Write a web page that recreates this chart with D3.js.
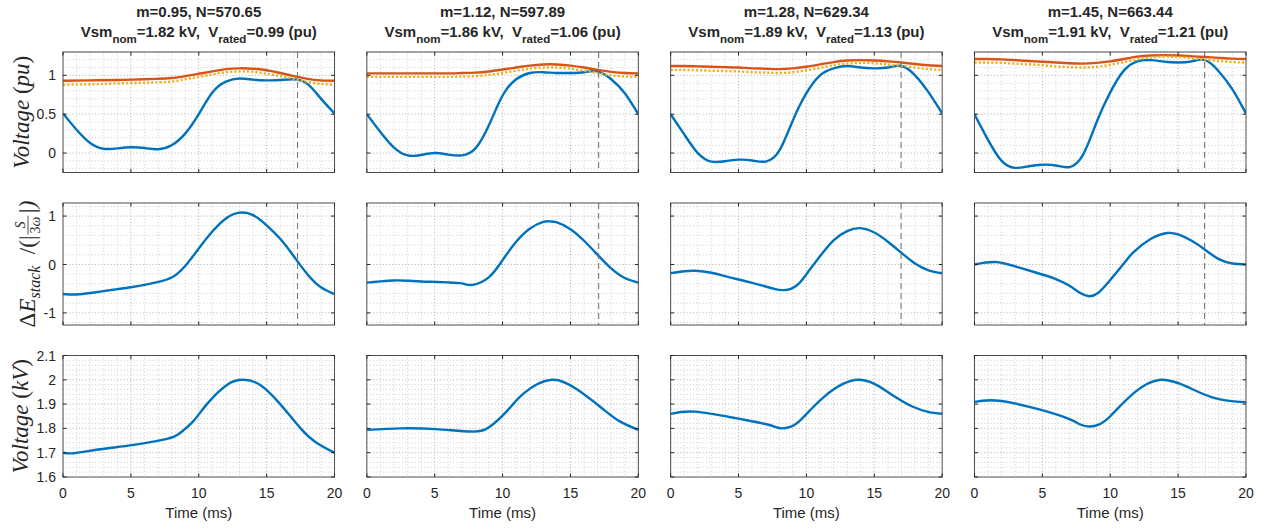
<!DOCTYPE html>
<html>
<head>
<meta charset="utf-8">
<script src="https://cdn.jsdelivr.net/npm/d3@7"></script>
<style>
  body { margin: 0; background: #fff; }
  svg { display: block; }
  text { font-family: "Liberation Sans", Arial, Helvetica, sans-serif; fill: #262626; white-space: pre; }
  .ylab { font-family: "Liberation Serif", "Times New Roman", serif; font-style: italic; }
</style>
</head>
<body>
<svg id="fig" width="1279" height="531"></svg>
<script>
// ---- values ----
const mValues    = [0.95, 1.12, 1.28, 1.45];
const nValues    = [570.65, 597.89, 629.34, 663.44];
const vsmNom     = [1.82, 1.86, 1.89, 1.91];
const vRated     = [0.99, 1.06, 1.13, 1.21];
const tMarker    = [17.28, 17.08, 16.97, 16.95];   // dashed vertical line (ms)

const timeTicks   = [0, 5, 10, 15, 20];
const puTicks     = [0, 0.5, 1];
const energyTicks = [-1, 0, 1];
const kvTicks     = [1.6, 1.7, 1.8, 1.9, 2, 2.1];

// row 1 : arm voltage (blue), upper envelope (orange), dotted (yellow) [t ms, pu]
const armVoltage = [
  [[0,0.51],[1,0.30],[2,0.13],[3,0.055],[4,0.06],[5,0.075],[6,0.065],[7,0.05],[8,0.10],[9,0.25],[10,0.50],[11,0.78],[12,0.92],[13,0.96],[14,0.945],[15,0.935],[16,0.94],[17,0.95],[18,0.89],[19,0.70],[20,0.51]],
  [[0,0.50],[1,0.27],[2,0.07],[3,-0.03],[4,-0.025],[5,0.0],[6,-0.02],[7,-0.03],[8,0.06],[9,0.36],[10,0.74],[11,0.95],[12,1.03],[13,1.04],[14,1.03],[15,1.03],[16,1.04],[17,1.05],[18,0.95],[19,0.77],[20,0.50]],
  [[0,0.50],[1,0.24],[2,0.0],[3,-0.11],[4,-0.105],[5,-0.085],[6,-0.095],[7,-0.11],[8,0.03],[9,0.42],[10,0.77],[11,1.00],[12,1.09],[13,1.12],[14,1.10],[15,1.09],[16,1.10],[17,1.12],[18,1.00],[19,0.78],[20,0.51]],
  [[0,0.50],[1,0.17],[2,-0.10],[3,-0.19],[4,-0.17],[5,-0.15],[6,-0.16],[7,-0.18],[8,-0.02],[9,0.40],[10,0.78],[11,1.06],[12,1.18],[13,1.195],[14,1.175],[15,1.165],[16,1.18],[17,1.195],[18,1.05],[19,0.82],[20,0.51]]
];
const smVoltage = [
  [[0,0.93],[2,0.935],[4,0.94],[6,0.95],[7,0.955],[8,0.965],[9,0.99],[10,1.02],[11,1.05],[12,1.08],[13,1.09],[14,1.085],[15,1.065],[16,1.03],[17,0.99],[18,0.955],[19,0.935],[20,0.93]],
  [[0,1.025],[3,1.025],[6,1.025],[7,1.03],[8,1.035],[9,1.05],[10,1.075],[11,1.10],[12,1.125],[13,1.14],[14,1.14],[15,1.125],[16,1.10],[17,1.07],[18,1.045],[19,1.03],[20,1.025]],
  [[0,1.12],[1,1.12],[2,1.115],[3,1.11],[4,1.105],[5,1.10],[6,1.09],[7,1.085],[8,1.08],[9,1.09],[10,1.11],[11,1.14],[12,1.17],[13,1.19],[14,1.195],[15,1.19],[16,1.18],[17,1.165],[18,1.145],[19,1.13],[20,1.12]],
  [[0,1.21],[1,1.21],[2,1.205],[3,1.195],[4,1.185],[5,1.175],[6,1.165],[7,1.155],[8,1.15],[9,1.16],[10,1.18],[11,1.21],[12,1.24],[13,1.255],[14,1.26],[15,1.255],[16,1.245],[17,1.235],[18,1.225],[19,1.215],[20,1.21]]
];
const avgVoltage = [
  [[0,0.88],[2,0.885],[4,0.895],[6,0.905],[7,0.91],[8,0.92],[9,0.95],[10,0.98],[11,1.01],[12,1.04],[13,1.05],[14,1.045],[15,1.02],[16,0.99],[17,0.955],[18,0.915],[19,0.89],[20,0.88]],
  [[0,0.98],[3,0.98],[6,0.98],[7,0.985],[8,0.99],[9,1.005],[10,1.03],[11,1.06],[12,1.085],[13,1.10],[14,1.10],[15,1.085],[16,1.06],[17,1.03],[18,1.0],[19,0.985],[20,0.98]],
  [[0,1.07],[1,1.07],[2,1.065],[3,1.06],[4,1.055],[5,1.05],[6,1.04],[7,1.035],[8,1.03],[9,1.04],[10,1.065],[11,1.095],[12,1.13],[13,1.15],[14,1.16],[15,1.155],[16,1.14],[17,1.12],[18,1.10],[19,1.08],[20,1.07]],
  [[0,1.165],[1,1.165],[2,1.16],[3,1.15],[4,1.14],[5,1.13],[6,1.115],[7,1.105],[8,1.10],[9,1.11],[10,1.135],[11,1.17],[12,1.205],[13,1.23],[14,1.24],[15,1.235],[16,1.22],[17,1.20],[18,1.185],[19,1.17],[20,1.165]]
];

// row 2 : stack energy deviation (normalised)
const stackEnergy = [
  [[0,-0.61],[1,-0.62],[2,-0.59],[3,-0.55],[4,-0.51],[5,-0.47],[6,-0.42],[7,-0.36],[8,-0.27],[9,-0.03],[10,0.33],[11,0.68],[12,0.95],[13,1.07],[14,1.02],[15,0.81],[16,0.53],[17,0.17],[18,-0.20],[19,-0.47],[20,-0.61]],
  [[0,-0.375],[1,-0.35],[2,-0.33],[3,-0.335],[4,-0.35],[5,-0.36],[6,-0.37],[7,-0.39],[7.8,-0.42],[9,-0.26],[10,0.09],[11,0.47],[12,0.74],[13,0.88],[13.5,0.89],[14,0.87],[15,0.73],[16,0.49],[17,0.20],[18,-0.08],[19,-0.28],[20,-0.375]],
  [[0,-0.18],[1,-0.14],[1.84,-0.13],[3,-0.17],[4,-0.24],[5,-0.31],[6,-0.38],[7,-0.455],[7.7,-0.51],[8.26,-0.53],[8.9,-0.50],[9.5,-0.38],[10,-0.20],[11,0.17],[12,0.50],[13,0.69],[13.95,0.75],[15,0.66],[16,0.47],[17,0.24],[18,0.02],[19,-0.12],[20,-0.18]],
  [[0,0.0],[1.54,0.05],[3,-0.04],[4.45,-0.16],[5.9,-0.29],[7,-0.44],[7.8,-0.59],[8.43,-0.655],[9.1,-0.59],[9.97,-0.33],[11,0.02],[11.7,0.25],[13,0.53],[14.2,0.65],[15,0.62],[16,0.49],[17,0.30],[18,0.11],[19,0.02],[20,0.0]]
];

// row 3 : submodule capacitor voltage (kV)
const capVoltage = [
  [[0,1.70],[0.8,1.698],[2.75,1.714],[5.2,1.732],[7.66,1.757],[8.6,1.78],[9.6,1.83],[10.6,1.90],[12.1,1.98],[13.3,2.0],[14.5,1.98],[16,1.90],[17.5,1.80],[18.7,1.74],[20,1.70]],
  [[0,1.794],[2.5,1.80],[5.1,1.797],[7.7,1.787],[9.0,1.805],[10.3,1.87],[11.6,1.946],[13.6,2.0],[15.5,1.96],[17.3,1.884],[18.6,1.83],[20,1.794]],
  [[0,1.86],[1.8,1.869],[4.8,1.842],[7.0,1.818],[7.7,1.806],[8.2,1.80],[8.8,1.806],[9.6,1.836],[11.3,1.93],[13.8,2.0],[16.1,1.946],[17.8,1.89],[19.1,1.866],[20,1.86]],
  [[0,1.909],[1.8,1.914],[4.84,1.877],[7.0,1.838],[7.8,1.816],[8.5,1.808],[9.2,1.817],[10,1.85],[11.75,1.946],[13.7,2.0],[15.6,1.973],[17.4,1.93],[19.1,1.911],[20,1.908]]
];

// ---- layout ----
const svg = d3.select("#fig");
const BLUE = "#0072BD", ORANGE = "#D95319", YELLOW = "#EDB120", AXIS = "#262626";
const plotLeft = 63, plotRight = 1246, colGap = 32.3;
const pw = (plotRight - plotLeft - 3 * colGap) / 4;
const rows = [
  { top: 52,    h: 120.5, domain: [-0.25, 1.3],  ticks: puTicks,     minor: d3.range(-0.2, 1.31, 0.1), marker: true },
  { top: 203,   h: 122,   domain: [-1.25, 1.27], ticks: energyTicks, minor: d3.range(-1.2, 1.21, 0.2), marker: true },
  { top: 355.5, h: 121.5, domain: [1.6, 2.1],    ticks: kvTicks,     minor: d3.range(1.62, 2.09, 0.02), marker: false }
];
const timeMinor = d3.range(1, 20, 1);

svg.append("rect").attr("width", 1279).attr("height", 531).attr("fill", "#fff");

const x = d3.scaleLinear().domain([0, 20]).range([0, pw]);
const curve = d3.curveNatural;

rows.forEach(function (row, r) {
  const y = d3.scaleLinear().domain(row.domain).range([row.h, 0]);
  const line = d3.line().x(d => x(d[0])).y(d => y(d[1])).curve(curve);

  for (let c = 0; c < 4; c++) {
    const x0 = plotLeft + c * (pw + colGap);
    const g = svg.append("g").attr("transform", "translate(" + x0 + "," + row.top + ")");
    const clipId = "clip" + r + c;
    g.append("clipPath").attr("id", clipId).append("rect").attr("width", pw).attr("height", row.h);

    // dotted grid (minor + major)
    const grid = g.append("g").attr("stroke-width", 0.8).attr("stroke-dasharray", "1 2.2");
    grid.selectAll(".vg").data(timeMinor).enter().append("line")
      .attr("x1", d => x(d)).attr("x2", d => x(d)).attr("y1", 0).attr("y2", row.h)
      .attr("stroke", d => d % 5 === 0 ? "#9a9a9a" : "#c4c4c4");
    grid.selectAll(".hg").data(row.minor).enter().append("line")
      .attr("x1", 0).attr("x2", pw).attr("y1", d => y(d)).attr("y2", d => y(d))
      .attr("stroke", d => row.ticks.some(t => Math.abs(t - d) < 1e-6) ? "#9a9a9a" : "#c4c4c4");

    const plot = g.append("g").attr("clip-path", "url(#" + clipId + ")");
    if (r === 0) {
      plot.append("path").attr("d", line(armVoltage[c])).attr("fill", "none").attr("stroke", BLUE).attr("stroke-width", 2.4);
      plot.append("path").attr("d", line(smVoltage[c])).attr("fill", "none").attr("stroke", ORANGE).attr("stroke-width", 2.4);
      plot.append("path").attr("d", line(avgVoltage[c])).attr("fill", "none").attr("stroke", YELLOW).attr("stroke-width", 2.4).attr("stroke-dasharray", "2.2 2");
    } else if (r === 1) {
      plot.append("path").attr("d", line(stackEnergy[c])).attr("fill", "none").attr("stroke", BLUE).attr("stroke-width", 2.4);
    } else {
      plot.append("path").attr("d", line(capVoltage[c])).attr("fill", "none").attr("stroke", BLUE).attr("stroke-width", 2.4);
    }

    if (row.marker) {
      g.append("line").attr("x1", x(tMarker[c])).attr("x2", x(tMarker[c])).attr("y1", 0).attr("y2", row.h)
        .attr("stroke", "#6e6e6e").attr("stroke-width", 1).attr("stroke-dasharray", "6 4");
    }

    // axes box with inward ticks on all sides
    const ax = g.append("g").attr("stroke", AXIS).attr("stroke-width", 1).attr("fill", "none");
    ax.append("rect").attr("width", pw).attr("height", row.h).attr("stroke", "#4d4d4d");
    timeTicks.forEach(function (t) {
      ax.append("line").attr("x1", x(t)).attr("x2", x(t)).attr("y1", row.h).attr("y2", row.h - 3.5);
      ax.append("line").attr("x1", x(t)).attr("x2", x(t)).attr("y1", 0).attr("y2", 3.5);
    });
    row.ticks.forEach(function (t) {
      ax.append("line").attr("x1", 0).attr("x2", 3.5).attr("y1", y(t)).attr("y2", y(t));
      ax.append("line").attr("x1", pw).attr("x2", pw - 3.5).attr("y1", y(t)).attr("y2", y(t));
    });

    if (c === 0) {
      g.selectAll(".yt").data(row.ticks).enter().append("text")
        .attr("x", -7).attr("y", d => y(d)).attr("dy", "0.36em")
        .attr("text-anchor", "end").attr("font-size", 14).text(d => String(d));
    }
    if (r === 2) {
      g.selectAll(".xt").data(timeTicks).enter().append("text")
        .attr("x", d => x(d)).attr("y", row.h + 21).attr("text-anchor", "middle").attr("font-size", 14).text(d => String(d));
      g.append("text").attr("x", pw / 2).attr("y", row.h + 41).attr("text-anchor", "middle").attr("font-size", 15).text("Time (ms)");
    }
    if (r === 0) {
      g.append("text").attr("x", pw / 2).attr("y", -35).attr("text-anchor", "middle")
        .attr("font-size", 15).attr("font-weight", "bold")
        .text("m=" + mValues[c].toFixed(2) + ", N=" + nValues[c].toFixed(2));
      const t2 = g.append("text").attr("x", pw / 2).attr("y", -15.5).attr("text-anchor", "middle")
        .attr("font-size", 15).attr("font-weight", "bold");
      t2.append("tspan").text("Vsm");
      t2.append("tspan").attr("font-size", 11.5).attr("dy", 6).text("nom");
      t2.append("tspan").attr("dy", -6).text("=" + vsmNom[c].toFixed(2) + " kV,  V");
      t2.append("tspan").attr("font-size", 11.5).attr("dy", 6).text("rated");
      t2.append("tspan").attr("dy", -6).text("=" + vRated[c].toFixed(2) + " (pu)");
    }
  }
});

// ---- y axis labels (LaTeX-like) ----
const FS = 23;
function plainLabel(xBase, cy, word, unit) {
  const t = svg.append("text").attr("class", "ylab").attr("font-size", FS)
    .attr("transform", "translate(" + xBase + "," + cy + ") rotate(-90)").attr("text-anchor", "middle");
  t.append("tspan").text(word + " ");
  t.append("tspan").attr("font-style", "normal").text("(");
  t.append("tspan").text(unit);
  t.append("tspan").attr("font-style", "normal").text(")");
}
plainLabel(29, rows[0].top + rows[0].h / 2, "Voltage", "pu");
plainLabel(28, rows[2].top + rows[2].h / 2, "Voltage", "kV");

(function energyLabel() {
  const outer = svg.append("g").attr("transform", "translate(35," + (rows[1].top + rows[1].h / 2) + ") rotate(-90)");
  const g = outer.append("g");
  const t = g.append("text").attr("class", "ylab").attr("font-size", FS);
  t.append("tspan").attr("font-style", "normal").text("\u0394");
  t.append("tspan").text("E");
  t.append("tspan").attr("font-size", 16).attr("dy", 5).text("stack");
  t.append("tspan").attr("dy", -5).attr("font-style", "normal").text("  /(|");
  const w1 = t.node().getComputedTextLength();
  const num = g.append("text").attr("class", "ylab").attr("font-size", 14).attr("y", -10.5).attr("text-anchor", "middle").text("S");
  const den = g.append("text").attr("class", "ylab").attr("font-size", 14).attr("y", 4.5).attr("text-anchor", "middle");
  den.append("tspan").attr("font-style", "normal").text("3");
  den.append("tspan").text("\u03C9");
  const fw = Math.max(num.node().getComputedTextLength(), den.node().getComputedTextLength()) + 2;
  const fx = w1 + 1;
  num.attr("x", fx + fw / 2);
  den.attr("x", fx + fw / 2);
  g.append("line").attr("x1", fx).attr("x2", fx + fw).attr("y1", -7).attr("y2", -7).attr("stroke", AXIS).attr("stroke-width", 0.8);
  const t3 = g.append("text").attr("class", "ylab").attr("font-size", FS).attr("font-style", "normal").attr("x", fx + fw + 1).text("|)");
  const total = fx + fw + 1 + t3.node().getComputedTextLength();
  g.attr("transform", "translate(" + (-total / 2) + ",0)");
})();
</script>
</body>
</html>
